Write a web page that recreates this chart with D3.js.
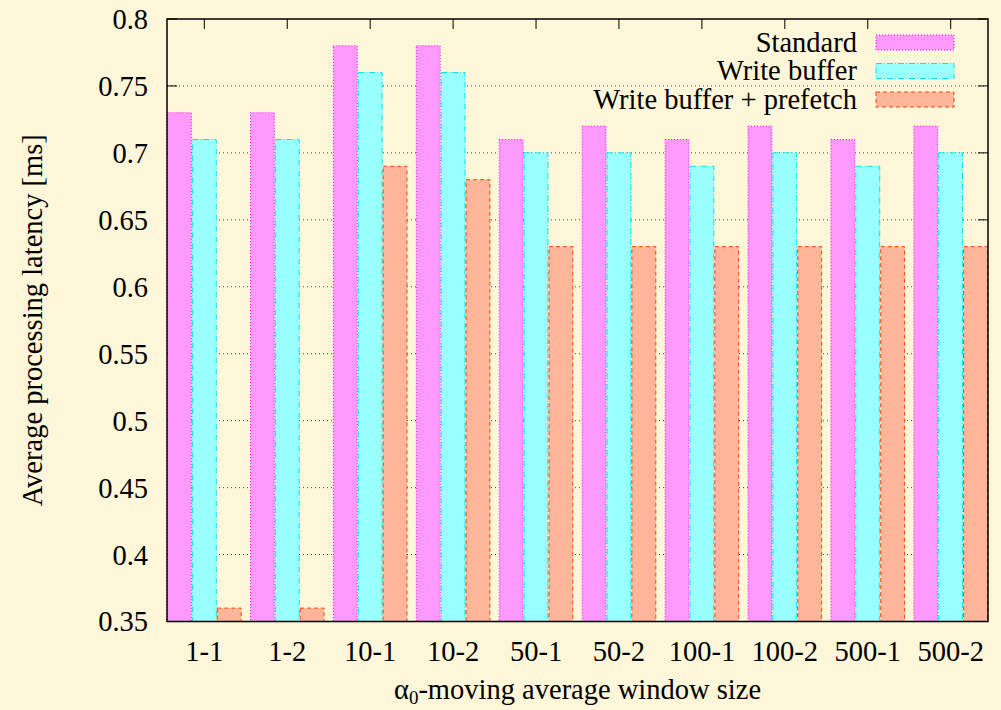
<!DOCTYPE html>
<html>
<head>
<meta charset="utf-8">
<script src="https://cdn.jsdelivr.net/npm/d3@7"></script>
<style>
  html, body { margin: 0; padding: 0; background: #fdf6d8; }
  svg { display: block; }
</style>
</head>
<body>
<script>
// window sizes on the x axis
const categories = ['1-1', '1-2', '10-1', '10-2', '50-1', '50-2', '100-1', '100-2', '500-1', '500-2'];
const seriesNames = ['Standard', 'Write buffer', 'Write buffer + prefetch'];

// average latency [ms]
const standard    = [0.73, 0.73, 0.78, 0.78, 0.71, 0.72, 0.71, 0.72, 0.71, 0.72];
const writeBuffer = [0.71, 0.71, 0.76, 0.76, 0.70, 0.70, 0.69, 0.70, 0.69, 0.70];
const prefetch    = [0.36, 0.36, 0.69, 0.68, 0.63, 0.63, 0.63, 0.63, 0.63, 0.63];

const yTicks = [0.35, 0.4, 0.45, 0.5, 0.55, 0.6, 0.65, 0.7, 0.75, 0.8];

const width = 1001, height = 710;
const margin = {top: 19, right: 13, bottom: 88.5, left: 167};
const innerW = width - margin.left - margin.right;
const innerH = height - margin.top - margin.bottom;
const fontFamily = 'Liberation Serif';
const fontSize = 28.5;

const styles = [
  {fill: '#ff99ff', stroke: '#ff00ff', dash: '1,2'},
  {fill: '#99ffff', stroke: '#00e5ee', dash: '6,2,1,2'},
  {fill: '#ffb599', stroke: '#ff4500', dash: '4,3'},
];

const values = [standard, writeBuffer, prefetch];
let rows = categories.map((c, i) => ({
  cat: c,
  vals: seriesNames.map((s, j) => ({series: s, idx: j, value: values[j][i]}))
}));

let svg = d3.select('body').append('svg')
  .attr('width', width)
  .attr('height', height);

svg.append('rect')
  .attr('width', width).attr('height', height)
  .attr('fill', '#fdf6d8');

let addText = function(sel) {
  return sel.append('text')
    .attr('font-family', fontFamily)
    .attr('font-size', fontSize)
    .attr('fill', '#000');
};

let g = svg.append('g')
  .attr('transform', 'translate(' + margin.left + ',' + margin.top + ')');

let x = d3.scaleBand().domain(categories).range([0, innerW]).paddingInner(0.1).paddingOuter(0);
let xSub = d3.scaleBand().domain(seriesNames).range([0, x.bandwidth()]);
let y = d3.scaleLinear().domain([0.35, 0.8]).range([innerH, 0]);

// grid lines (dotted, behind bars)
g.append('g')
  .selectAll('line')
  .data(yTicks.filter(t => t > 0.35 && t < 0.8))
  .enter()
  .append('line')
  .attr('x1', 0).attr('x2', innerW)
  .attr('y1', d => y(d)).attr('y2', d => y(d))
  .attr('stroke', '#444')
  .attr('stroke-width', 1)
  .attr('stroke-dasharray', '1,3');

// tick marks: left/right with values, top/bottom at category centres
let tickLen = 10;
let tickG = g.append('g').attr('stroke', '#000').attr('stroke-width', 1);
yTicks.forEach(t => {
  tickG.append('line').attr('x1', 0).attr('x2', tickLen).attr('y1', y(t)).attr('y2', y(t));
  tickG.append('line').attr('x1', innerW).attr('x2', innerW - tickLen).attr('y1', y(t)).attr('y2', y(t));
});
categories.forEach(c => {
  let cx = x(c) + x.bandwidth() / 2;
  tickG.append('line').attr('x1', cx).attr('x2', cx).attr('y1', 0).attr('y2', tickLen);
  tickG.append('line').attr('x1', cx).attr('x2', cx).attr('y1', innerH).attr('y2', innerH - tickLen);
});

// bars
let groups = g.selectAll('.grp')
  .data(rows)
  .enter()
  .append('g')
  .attr('class', 'grp')
  .attr('transform', d => 'translate(' + x(d.cat) + ',0)');

groups.selectAll('rect')
  .data(d => d.vals)
  .enter()
  .append('rect')
  .attr('x', d => xSub(d.series) + 0.5)
  .attr('y', d => y(d.value))
  .attr('width', xSub.bandwidth() - 1)
  .attr('height', d => y(0.35) - y(d.value))
  .attr('fill', d => styles[d.idx].fill)
  .attr('stroke', d => styles[d.idx].stroke)
  .attr('stroke-width', 1)
  .attr('stroke-dasharray', d => styles[d.idx].dash);

// border
g.append('rect')
  .attr('x', 0).attr('y', 0)
  .attr('width', innerW).attr('height', innerH)
  .attr('fill', 'none')
  .attr('stroke', '#000')
  .attr('stroke-width', 1.5);

// y tick labels
yTicks.forEach(t => {
  addText(g)
    .attr('x', -19)
    .attr('y', y(t))
    .attr('dy', '0.35em')
    .attr('text-anchor', 'end')
    .text(d3.format('')(t));
});

// x tick labels
categories.forEach(c => {
  addText(g)
    .attr('x', x(c) + x.bandwidth() / 2)
    .attr('y', innerH + 39)
    .attr('text-anchor', 'middle')
    .text(c);
});

// axis titles
let xt = addText(svg)
  .attr('x', margin.left + innerW / 2)
  .attr('y', 699)
  .attr('text-anchor', 'middle');
xt.append('tspan').text('α');
xt.append('tspan').attr('dy', 5).attr('font-size', 19).text('0');
xt.append('tspan').attr('dy', -5).text('-moving average window size');

addText(svg)
  .attr('transform', 'translate(42,' + (margin.top + innerH / 2) + ') rotate(-90)')
  .attr('text-anchor', 'middle')
  .text('Average processing latency [ms]');

// legend
seriesNames.forEach((s, i) => {
  let cy = 42.5 + i * 28.5;
  addText(svg)
    .attr('x', 857)
    .attr('y', cy)
    .attr('dy', '0.33em')
    .attr('text-anchor', 'end')
    .text(s);
  svg.append('rect')
    .attr('x', 876).attr('y', cy - 7.5)
    .attr('width', 78).attr('height', 15)
    .attr('fill', styles[i].fill)
    .attr('stroke', styles[i].stroke)
    .attr('stroke-width', 1)
    .attr('stroke-dasharray', styles[i].dash);
});
</script>
</body>
</html>
